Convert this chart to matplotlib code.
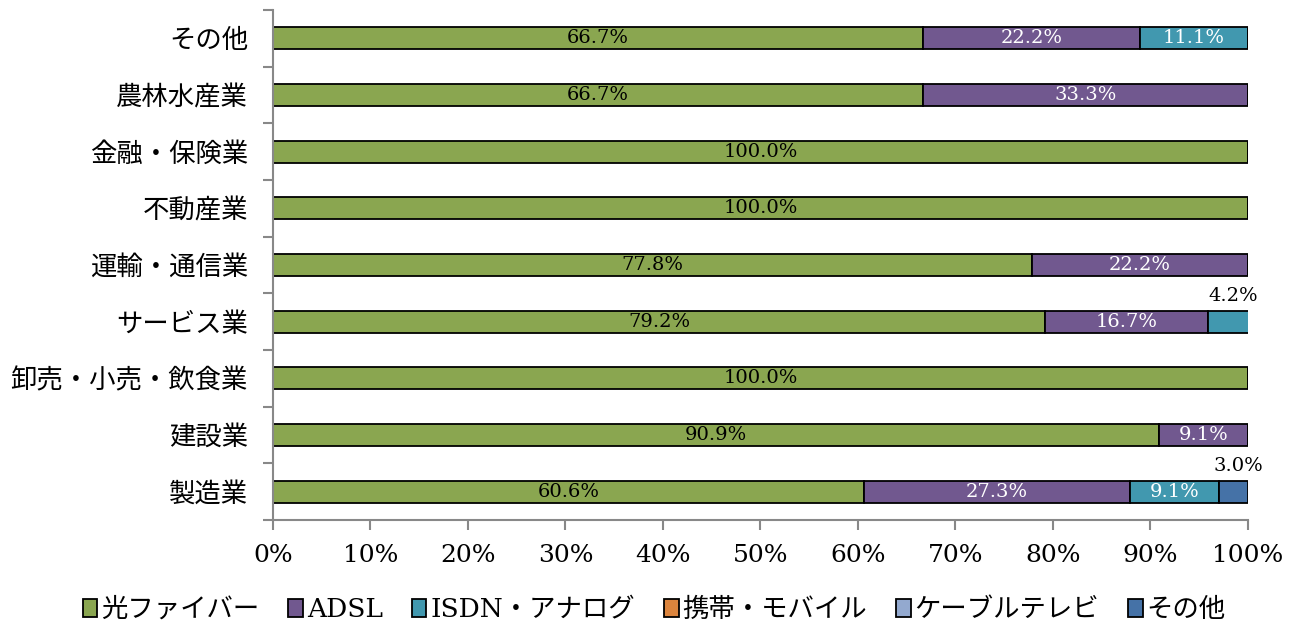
import matplotlib
matplotlib.use("Agg")
import matplotlib.pyplot as plt
import numpy as np

plt.rcParams['font.family'] = ['DejaVu Serif', 'Noto Sans CJK JP']

industries = ['製造業', '建設業', '卸売・小売・飲食業', 'サービス業', '運輸・通信業',
              '不動産業', '金融・保険業', '農林水産業', 'その他']
series_names = ['光ファイバー', 'ADSL', 'ISDN・アナログ', '携帯・モバイル', 'ケーブルテレビ', 'その他']
fiber = [60.6, 90.9, 100.0, 79.2, 77.8, 100.0, 100.0, 66.7, 66.7]
adsl = [27.3, 9.1, 0, 16.7, 22.2, 0, 0, 33.3, 22.2]
isdn = [9.1, 0, 0, 4.2, 0, 0, 0, 0, 11.1]
mobile = [0, 0, 0, 0, 0, 0, 0, 0, 0]
catv = [0, 0, 0, 0, 0, 0, 0, 0, 0]
other = [3.0, 0, 0, 0, 0, 0, 0, 0, 0]

colors = ['#8AA650', '#71588F', '#4198AF', '#DB843D', '#93A9CF', '#4572A7']
label_colors = ['black', 'white', 'white', 'black', 'black', 'black']

fig = plt.figure(figsize=(12.93, 6.21), dpi=100)
ax = fig.add_axes([0.2111, 0.1626, 0.9652 - 0.2111, 0.9839 - 0.1626])

y = np.arange(len(industries))
left = np.zeros(len(industries))
for i, vals in enumerate([fiber, adsl, isdn, mobile, catv, other]):
    vals = np.array(vals, dtype=float)
    ax.barh(y, vals, left=left, height=0.39, color=colors[i],
            edgecolor='black', linewidth=1.3, label=series_names[i])
    for j, v in enumerate(vals):
        if v <= 0:
            continue
        txt = f'{v:.1f}%'
        if v < 6:
            # small segments get their label above the bar's right end
            ax.text(left[j] + v / 2 + 0.5, y[j] + 0.3, txt, ha='center', va='bottom',
                    fontsize=14, color='black')
        else:
            ax.text(left[j] + v / 2, y[j], txt, ha='center', va='center',
                    fontsize=14, color=label_colors[i])
    left += vals

ax.set_xlim(0, 100)
ax.set_ylim(-0.5, len(industries) - 0.5)
ax.set_xticks(np.arange(0, 101, 10))
ax.set_xticklabels([f'{t}%' for t in range(0, 101, 10)], fontsize=18)
ax.set_yticks(y)
ax.set_yticklabels(industries, fontsize=19)
ax.set_yticks(np.arange(-0.5, len(industries), 1), minor=True)
ax.tick_params(axis='y', which='major', length=0, pad=18)
ax.tick_params(axis='y', which='minor', length=7, color='#888888', width=1.5)
ax.tick_params(axis='x', length=7, color='#888888', width=1.5, pad=10)

for side in ['top', 'right']:
    ax.spines[side].set_visible(False)
for side in ['left', 'bottom']:
    ax.spines[side].set_color('#888888')
    ax.spines[side].set_linewidth(1.5)

leg = fig.legend(loc='lower center', bbox_to_anchor=(0.506, -0.04), ncol=6,
                 frameon=False, fontsize=19, handlelength=0.55, handleheight=0.7,
                 handletextpad=0.15, columnspacing=1.1)

fig.savefig('out.png', dpi=100)
